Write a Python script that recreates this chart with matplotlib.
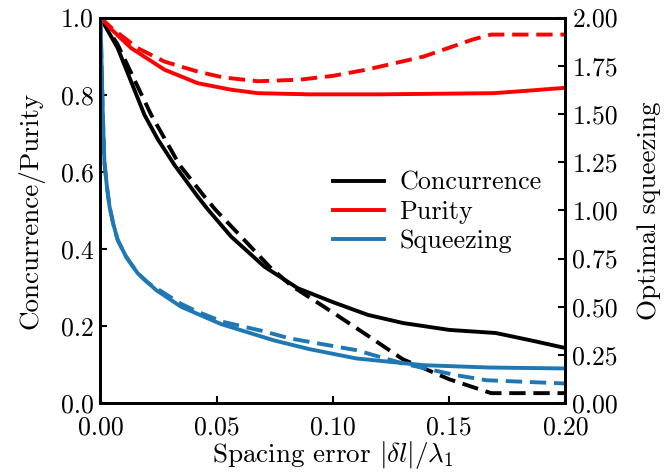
import numpy as np
import matplotlib
matplotlib.use("Agg")
import matplotlib.pyplot as plt

plt.rcParams['font.family'] = ['cmr10', 'DejaVu Serif']
plt.rcParams['mathtext.fontset'] = 'cm'
plt.rcParams['axes.formatter.use_mathtext'] = True

# concurrence (left axis)
conc_x = [0, 0.0074, 0.0189, 0.0246, 0.0318, 0.0418, 0.0461, 0.0562, 0.0705, 0.0849,
          0.1, 0.115, 0.13, 0.15, 0.17, 0.185, 0.2]
conc_y = [1.0, 0.921, 0.748, 0.685, 0.618, 0.536, 0.503, 0.432, 0.354, 0.298,
          0.262, 0.229, 0.208, 0.19, 0.182, 0.163, 0.143]
conc_dx = [0, 0.0074, 0.0218, 0.034, 0.0447, 0.0497, 0.0605, 0.0727, 0.082, 0.1,
           0.115, 0.13, 0.15, 0.168, 0.2]
conc_dy = [1.0, 0.93, 0.748, 0.618, 0.536, 0.50, 0.432, 0.354, 0.305, 0.235,
           0.175, 0.114, 0.062, 0.026, 0.026]

# purity (left axis)
pur_x = [0, 0.005, 0.0132, 0.0275, 0.0418, 0.0562, 0.0677, 0.09, 0.12, 0.169, 0.185, 0.2]
pur_y = [1.0, 0.968, 0.921, 0.865, 0.830, 0.813, 0.804, 0.801, 0.801, 0.804, 0.811, 0.818]
pur_dx = [0, 0.005, 0.016, 0.0275, 0.0418, 0.0527, 0.0677, 0.0857, 0.1, 0.1144,
          0.139, 0.16, 0.168, 0.2]
pur_dy = [1.0, 0.972, 0.921, 0.886, 0.860, 0.845, 0.835, 0.839, 0.849, 0.865,
          0.899, 0.943, 0.956, 0.956]

# squeezing (right axis)
sq_x = [0, 0.0005, 0.001, 0.0017, 0.0028, 0.0039, 0.0055, 0.0074, 0.011, 0.016,
        0.0239, 0.0347, 0.0519, 0.0748, 0.09, 0.11, 0.139, 0.167, 0.2]
sq_y = [2.0, 1.75, 1.5, 1.25, 1.12, 1.02, 0.93, 0.847, 0.76, 0.674,
        0.587, 0.50, 0.41, 0.325, 0.28, 0.232, 0.197, 0.185, 0.18]
sq_dx = [0, 0.0005, 0.001, 0.0017, 0.0028, 0.0039, 0.0055, 0.0074, 0.011, 0.016,
         0.0203, 0.0347, 0.0418, 0.0527, 0.0705, 0.0814, 0.11, 0.13, 0.153, 0.166, 0.2]
sq_dy = [2.0, 1.75, 1.5, 1.25, 1.12, 1.02, 0.93, 0.847, 0.76, 0.674,
         0.625, 0.515, 0.474, 0.422, 0.372, 0.336, 0.275, 0.206, 0.145, 0.119, 0.102]

blue = '#1f77b4'
lw = 2.8
dash = (4.2, 2.0)
fs_tick = 18.5
fs_lab = 19.5

fig = plt.figure(figsize=(6.72, 4.76), dpi=100)
ax = fig.add_axes([0.1495, 0.153, 0.692, 0.81])
ax2 = ax.twinx()

ax.plot(conc_x, conc_y, color='black', lw=lw, label='Concurrence')
ax.plot(conc_dx, conc_dy, color='black', lw=lw, ls='--', dashes=dash)
ax.plot(pur_x, pur_y, color='red', lw=lw, label='Purity')
ax.plot(pur_dx, pur_dy, color='red', lw=lw, ls='--', dashes=dash)
ax2.plot(sq_x, sq_y, color=blue, lw=lw, label='Squeezing')
ax2.plot(sq_dx, sq_dy, color=blue, lw=lw, ls='--', dashes=dash)

ax.set_xlim(0, 0.2)
ax.set_ylim(0, 1.0)
ax2.set_ylim(0, 2.0)
ax.set_xticks([0, 0.05, 0.1, 0.15, 0.2])
ax.set_xticklabels(['0.00', '0.05', '0.10', '0.15', '0.20'])
ax.set_yticks([0, 0.2, 0.4, 0.6, 0.8, 1.0])
ax.set_yticklabels(['0.0', '0.2', '0.4', '0.6', '0.8', '1.0'])
ax2.set_yticks([0, 0.25, 0.5, 0.75, 1.0, 1.25, 1.5, 1.75, 2.0])
ax2.set_yticklabels(['0.00', '0.25', '0.50', '0.75', '1.00', '1.25', '1.50', '1.75', '2.00'])

for a in (ax, ax2):
    a.tick_params(direction='in', length=5, width=1.5, labelsize=fs_tick, pad=5)
    for s in a.spines.values():
        s.set_linewidth(2.0)
ax.tick_params(axis='x', pad=9)

ax.set_xlabel(r'Spacing error $|\delta l|/\lambda_1$', fontsize=fs_lab, labelpad=0)
ax.set_ylabel('Concurrence/Purity', fontsize=fs_lab, labelpad=11.5)
ax2.set_ylabel('Optimal squeezing', fontsize=fs_lab, labelpad=14)

h1, l1 = ax.get_legend_handles_labels()
h2, l2 = ax2.get_legend_handles_labels()
ax2.legend(h1 + h2, l1 + l2, loc='center left', bbox_to_anchor=(0.5, 0.496),
           frameon=False, fontsize=18.8, handlelength=1.95, handletextpad=0.6,
           labelspacing=0.2, borderpad=0, borderaxespad=0)

fig.savefig('out.png', dpi=100)
